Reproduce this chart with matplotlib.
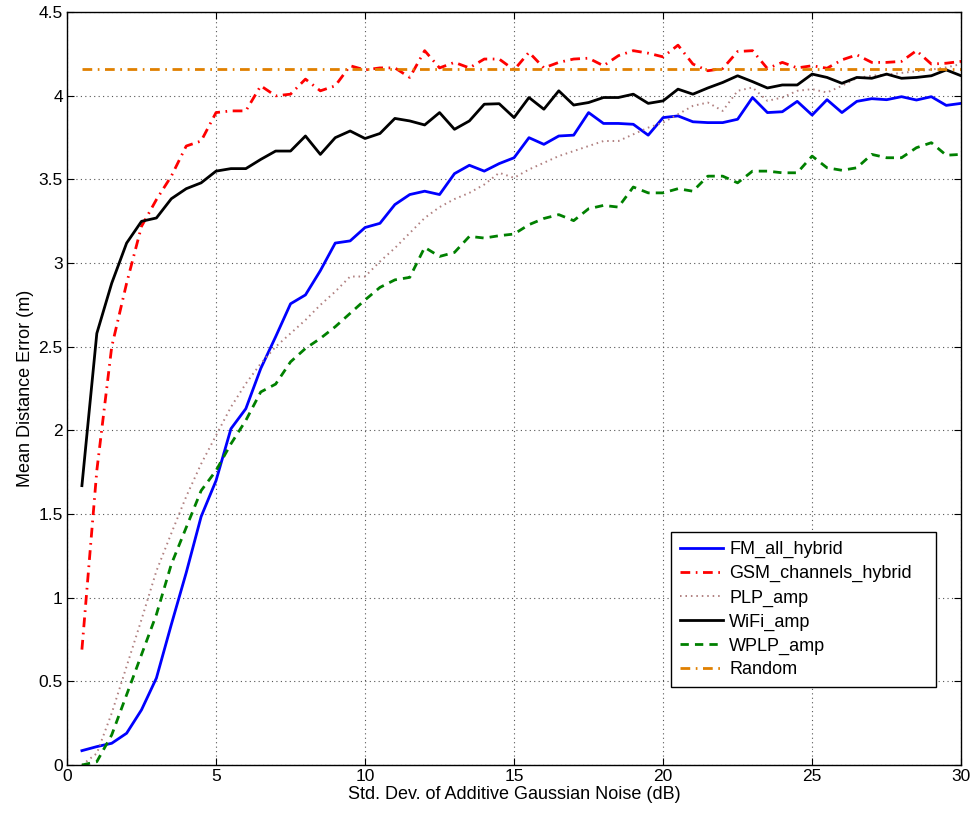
import numpy as np
import matplotlib
matplotlib.use('Agg')
import matplotlib.pyplot as plt
from matplotlib.ticker import FormatStrFormatter

plt.rcParams['font.family'] = ['Liberation Sans', 'DejaVu Sans']

# noise levels (dB), 0.5 dB steps
noise = np.arange(0.5, 30.01, 0.5)

fm_all_hybrid = [0.086, 0.11, 0.13, 0.19, 0.33, 0.52, 0.84, 1.15, 1.485, 1.70,
                 2.01, 2.13, 2.37, 2.56, 2.757, 2.81, 2.955, 3.12, 3.133, 3.213,
                 3.238, 3.35, 3.41, 3.43, 3.41, 3.535, 3.585, 3.55, 3.595, 3.63,
                 3.75, 3.71, 3.76, 3.765, 3.90, 3.835, 3.835, 3.83, 3.765, 3.87,
                 3.88, 3.845, 3.84, 3.84, 3.86, 3.99, 3.90, 3.905, 3.967, 3.885,
                 3.977, 3.90, 3.967, 3.983, 3.977, 3.995, 3.975, 3.995, 3.943, 3.955]

gsm_channels_hybrid = [0.69, 1.76, 2.5, 2.88, 3.22, 3.38, 3.52, 3.70, 3.73, 3.90,
                       3.91, 3.91, 4.06, 4.00, 4.01, 4.10, 4.03, 4.06, 4.18, 4.155,
                       4.167, 4.167, 4.11, 4.27, 4.167, 4.20, 4.167, 4.22, 4.22, 4.155,
                       4.26, 4.167, 4.20, 4.22, 4.225, 4.18, 4.24, 4.27, 4.255, 4.233,
                       4.303, 4.19, 4.15, 4.163, 4.265, 4.27, 4.163, 4.2, 4.167, 4.18,
                       4.165, 4.215, 4.245, 4.20, 4.20, 4.206, 4.27, 4.19, 4.195, 4.206]

plp_amp = [0.0, 0.07, 0.31, 0.59, 0.87, 1.16, 1.385, 1.605, 1.80, 1.97,
           2.14, 2.28, 2.40, 2.50, 2.58, 2.66, 2.75, 2.83, 2.92, 2.92,
           3.01, 3.09, 3.18, 3.27, 3.335, 3.383, 3.42, 3.47, 3.54, 3.51,
           3.56, 3.60, 3.64, 3.67, 3.70, 3.73, 3.73, 3.77, 3.81, 3.84,
           3.89, 3.94, 3.96, 3.91, 4.03, 4.05, 3.97, 3.99, 4.03, 4.04,
           4.02, 4.06, 4.107, 4.12, 4.127, 4.137, 4.147, 4.157, 4.17, 4.19]

wifi_amp = [1.67, 2.58, 2.88, 3.12, 3.25, 3.27, 3.385, 3.445, 3.48, 3.55,
            3.565, 3.565, 3.62, 3.67, 3.67, 3.76, 3.65, 3.75, 3.79, 3.745,
            3.775, 3.865, 3.85, 3.826, 3.90, 3.80, 3.85, 3.95, 3.953, 3.87,
            3.99, 3.92, 4.03, 3.945, 3.96, 3.99, 3.99, 4.01, 3.955, 3.97,
            4.04, 4.01, 4.047, 4.08, 4.12, 4.085, 4.047, 4.065, 4.065, 4.13,
            4.11, 4.075, 4.11, 4.105, 4.13, 4.105, 4.11, 4.12, 4.155, 4.12]

wplp_amp = [0.0, 0.02, 0.18, 0.42, 0.66, 0.9, 1.2, 1.42, 1.64, 1.76,
            1.92, 2.06, 2.23, 2.277, 2.41, 2.49, 2.55, 2.62, 2.70, 2.78,
            2.855, 2.90, 2.915, 3.094, 3.04, 3.064, 3.16, 3.15, 3.164, 3.174,
            3.23, 3.267, 3.29, 3.254, 3.325, 3.345, 3.335, 3.455, 3.42, 3.42,
            3.445, 3.43, 3.52, 3.52, 3.48, 3.55, 3.55, 3.54, 3.54, 3.64,
            3.57, 3.555, 3.57, 3.65, 3.63, 3.63, 3.69, 3.72, 3.645, 3.65]

random_level = 4.16

fig = plt.figure(figsize=(9.74, 8.13), dpi=100)
ax = fig.add_axes([0.0688, 0.059, 0.918, 0.926])

ax.plot(noise, fm_all_hybrid, color='#0000FF', lw=2, label='FM_all_hybrid')
ax.plot(noise, gsm_channels_hybrid, color='#FF0000', lw=2, dashes=(3.5, 2, 0.6, 2),
        label='GSM_channels_hybrid')
ax.plot(noise, plp_amp, color='#B08080', lw=1.4, dashes=(0.8, 2.0), label='PLP_amp')
ax.plot(noise, wifi_amp, color='black', lw=2, label='WiFi_amp')
ax.plot(noise, wplp_amp, color='#008000', lw=2, dashes=(3, 2.2), label='WPLP_amp')
ax.plot(noise, [random_level] * len(noise), color='#E08000', lw=2,
        dashes=(3.5, 2, 0.6, 2), label='Random')

ax.set_xlim(0, 30)
ax.set_ylim(0, 4.5)
ax.set_xticks(np.arange(0, 31, 5))
ax.set_yticks(np.arange(0, 4.51, 0.5))
ax.yaxis.set_major_formatter(FormatStrFormatter('%g'))
ax.tick_params(direction='in', top=True, right=True, labelsize=12.5, length=5, pad=3)
ax.grid(True, linestyle=(0, (1, 3)), color='#555555', lw=0.8)
for s in ax.spines.values():
    s.set_linewidth(1)

ax.set_xlabel('Std. Dev. of Additive Gaussian Noise (dB)', fontsize=13, labelpad=1)
ax.set_ylabel('Mean Distance Error (m)', fontsize=13, labelpad=3)

# legend box stretched to the same width as in the original
leg = ax.legend(loc='lower left', bbox_to_anchor=(0.675, 0.103, 0.297, 0.2),
                mode='expand', fontsize=13, fancybox=False, edgecolor='black',
                framealpha=1, handlelength=2.4, borderpad=0.5, labelspacing=0.38,
                handletextpad=0.35, borderaxespad=0)
leg.get_frame().set_linewidth(1)

fig.savefig('out.png', dpi=100)
